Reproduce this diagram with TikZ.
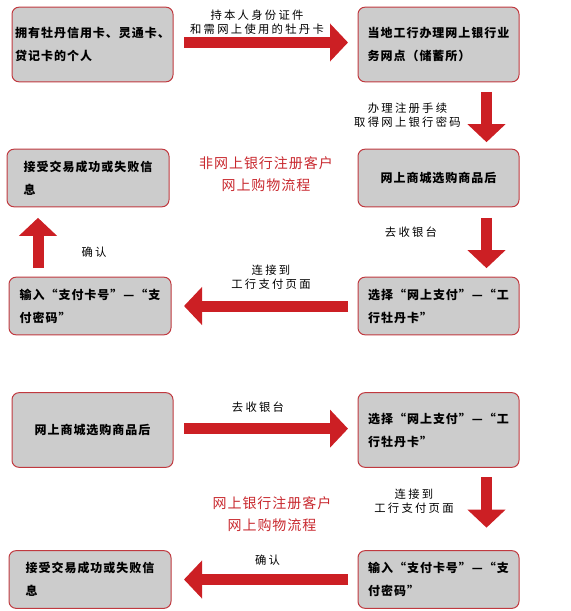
\documentclass[tikz,border=0pt]{standalone}
\usepackage{fontspec}
\setmainfont{Noto Sans CJK SC}
\newfontfamily\boxfont[LetterSpace=8]{Noto Sans CJK SC}
\newfontfamily\labelfont[LetterSpace=20]{Noto Sans CJK SC}
\newfontfamily\titlefont[LetterSpace=7]{Noto Sans CJK SC}
\usetikzlibrary{arrows.meta}

\definecolor{arrowred}{RGB}{204,31,36}
\definecolor{boxline}{RGB}{192,57,63}
\definecolor{boxgray}{RGB}{204,204,204}
\definecolor{titlered}{RGB}{200,40,46}

\tikzset{every picture/.style={line width=0.75pt}}
\tikzset{
  flowbox/.style={draw=boxline, fill=boxgray, rounded corners=5.25pt, inner sep=0pt, outer sep=0pt,
    minimum width=120.75pt, align=left, font=\boxfont\bfseries\fontsize{9pt}{17.25pt}\selectfont},
  tallbox/.style={flowbox, minimum height=56pt},
  flatbox/.style={flowbox, minimum height=43.25pt},
  fatarrow/.style={draw=arrowred, line width=8.25pt, -{Triangle[length=13.5pt,width=27.75pt]}},
  steplabel/.style={inner sep=0.75pt, align=center, font=\labelfont\fontsize{8.5pt}{10.75pt}\selectfont},
  flowtitle/.style={inner sep=0.75pt, align=center, text=titlered, font=\titlefont\fontsize{10.5pt}{16.5pt}\selectfont}
}

\begin{document}
\begin{tikzpicture}[x=0.75pt,y=0.75pt,yscale=-1,xscale=1]
\useasboundingbox (0,0) rectangle (571,611);

%Upper flow: boxes
\node [tallbox] (holder) at (92.5,44.5) {拥有牡丹信用卡、灵通卡、\\贷记卡的个人};
\node [tallbox] (branch) at (438.5,44.5) {当地工行办理网上银行业\\务网点（储蓄所）};
\node [flatbox, minimum width=121.5pt] (resultA) at (88,178) {接受交易成功或失败信\\息};
\node [flatbox] (shopA) at (438.5,178) {网上商城选购商品后};
\node [flatbox, minimum width=121.5pt] (inputA) at (90,306) {输入“支付卡号”—“支\\付密码”};
\node [flatbox] (chooseA) at (438.5,306) {选择“网上支付”—“工\\行牡丹卡”};

%Lower flow: boxes
\node [tallbox] (shopB) at (92.5,430) {网上商城选购商品后};
\node [tallbox] (chooseB) at (438.5,430) {选择“网上支付”—“工\\行牡丹卡”};
\node [flatbox, minimum width=121.5pt] (resultB) at (90,579.5) {接受交易成功或失败信\\息};
\node [flatbox] (inputB) at (438.5,579.5) {输入“支付卡号”—“支\\付密码”};

%columns of the vertical arrows
\coordinate (rightcol) at (486.5,0);
\coordinate (leftcol) at (38,0);

%Upper flow: arrows
\draw [fatarrow, shorten <=8.25pt, shorten >=7.5pt] ([yshift=-1.5pt]holder.east) -- ([yshift=-1.5pt]branch.west);
\draw [fatarrow, shorten <=7.5pt, shorten >=5.25pt] (branch.south -| rightcol) -- (shopA.north -| rightcol);
\draw [fatarrow, shorten <=8.25pt, shorten >=6.75pt] (shopA.south -| rightcol) -- (chooseA.north -| rightcol);
\draw [fatarrow, shorten <=7.5pt, shorten >=9.75pt] (chooseA.west) -- (inputA.east);
\draw [fatarrow, shorten <=6.75pt, shorten >=8.25pt] (inputA.north -| leftcol) -- (resultA.south -| leftcol);

%Lower flow: arrows
\draw [fatarrow, shorten <=8.25pt, shorten >=7.5pt] ([yshift=-1pt]shopB.east) -- ([yshift=-1pt]chooseB.west);
\draw [fatarrow, shorten <=7.5pt, shorten >=17.25pt] (chooseB.south -| rightcol) -- (inputB.north -| rightcol);
\draw [fatarrow, shorten <=7.5pt, shorten >=9.75pt] (inputB.west) -- (resultB.east);

% Text Node
\node [steplabel] (takecard) at (257,22) {持本人身份证件\\和需网上使用的牡丹卡};
% Text Node
\node [steplabel] (register) at (407.5,115) {办理注册手续\\取得网上银行密码};
% Text Node
\node [steplabel] (checkoutA) at (411,232) {去收银台};
% Text Node
\node [steplabel] (confirmA) at (94,252) {确认};
% Text Node
\node [steplabel] (linkA) at (271,277.5) {连接到\\工行支付页面};
% Text Node
\node [flowtitle] (titleA) at (266,174) {非网上银行注册客户\\网上购物流程};

% Text Node
\node [steplabel] (checkoutB) at (258,407) {去收银台};
% Text Node
\node [steplabel] (linkB) at (414,501.5) {连接到\\工行支付页面};
% Text Node
\node [flowtitle] (titleB) at (272,514) {网上银行注册客户\\网上购物流程};
% Text Node
\node [steplabel] (confirmB) at (267.5,560) {确认};
\end{tikzpicture}
\end{document}
